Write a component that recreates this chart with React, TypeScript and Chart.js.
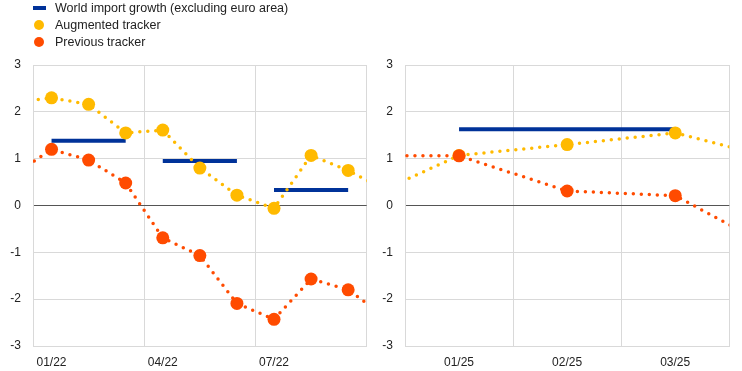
import React, { useEffect, useRef } from 'react';
import { Chart, registerables } from 'chart.js';

Chart.register(...registerables);

// ---- Data ----
// Left panel: monthly data Dec 2021 .. Oct 2022 (first and last are off-axis continuation points)
const leftMonths = ['12/21', '01/22', '02/22', '03/22', '04/22', '05/22', '06/22', '07/22', '08/22', '09/22', '10/22'];
const leftAugmented = [2.2, 2.3, 2.16, 1.55, 1.61, 0.8, 0.22, -0.06, 1.07, 0.75, 0.33];
const leftPrevious = [0.66, 1.2, 0.97, 0.48, -0.69, -1.07, -2.09, -2.43, -1.57, -1.8, -2.38];
const leftWorldQuarterly = [1.38, 0.95, 0.33];
const leftTickLabels = ['01/22', '04/22', '07/22'];

// Right panel: monthly data Dec 2024 .. Apr 2025 (first and last are off-axis continuation points)
const rightMonths = ['12/24', '01/25', '02/25', '03/25', '04/25'];
const rightAugmented = [0.01, 1.07, 1.3, 1.55, 0.96];
const rightPrevious = [1.07, 1.06, 0.31, 0.21, -1.03];
const rightWorldQuarterly = [1.63];
const rightTickLabels = ['01/25', '02/25', '03/25'];

const yTicks = [-3, -2, -1, 0, 1, 2, 3];

const legendLabels = ['World import growth (excluding euro area)', 'Augmented tracker', 'Previous tracker'];

// ---- Styles ----
const BLUE = '#003299';
const YELLOW = '#FFBA00';
const RED = '#FF4B00';
const GRID = '#d9d9d9';
const ZERO = '#555555';
const TEXT = '#222222';
const FONT = "'Liberation Sans', Arial, sans-serif";

function monthPoints(values: number[]) {
  return values.map((v, i) => ({ x: i - 0.5, y: v }));
}

function quarterSegments(values: number[]) {
  const pts: { x: number; y: number | null }[] = [];
  values.forEach((v, q) => {
    pts.push({ x: q * 3 + 0.5, y: v });
    pts.push({ x: q * 3 + 2.5, y: v });
    pts.push({ x: q * 3 + 2.75, y: null });
  });
  return pts;
}

function dottedDataset(label: string, color: string, values: number[], order: number) {
  const n = values.length;
  return {
    label,
    data: monthPoints(values),
    borderColor: color,
    backgroundColor: color,
    borderWidth: 3.5,
    borderDash: [0, 8],
    borderCapStyle: 'round' as const,
    pointRadius: values.map((_, i) => (i === 0 || i === n - 1 ? 0 : 6.5)),
    pointBackgroundColor: color,
    pointBorderWidth: 0,
    pointHoverRadius: 0,
    tension: 0,
    order,
  };
}

function makeConfig(opts: {
  augmented: number[];
  previous: number[];
  world: number[];
  tickLabels: string[];
  months: number;
  step: number;
  labelOffset: number;
  yWidth: number;
  padRight: number;
}) {
  const xTicks: number[] = [];
  for (let v = 0; v <= opts.months; v += opts.step) xTicks.push(v);
  return {
    type: 'line' as const,
    data: {
      datasets: [
        dottedDataset(legendLabels[2], RED, opts.previous, 0),
        dottedDataset(legendLabels[1], YELLOW, opts.augmented, 1),
        {
          label: legendLabels[0],
          data: opts.step === 3 ? quarterSegments(opts.world) : opts.world.flatMap((v) => [{ x: 0.5, y: v }, { x: 2.5, y: v }]),
          borderColor: BLUE,
          backgroundColor: BLUE,
          borderWidth: 4,
          pointRadius: 0,
          pointHoverRadius: 0,
          spanGaps: false,
          order: 2,
        },
      ],
    },
    options: {
      responsive: false,
      animation: false as const,
      devicePixelRatio: 1,
      layout: { padding: { top: 65, right: opts.padRight, bottom: 0, left: 0 } },
      plugins: { legend: { display: false }, tooltip: { enabled: false } },
      events: [],
      scales: {
        x: {
          type: 'linear' as const,
          min: 0,
          max: opts.months,
          afterBuildTicks: (axis: any) => {
            axis.ticks = xTicks.map((v) => ({ value: v }));
          },
          afterFit: (axis: any) => {
            axis.height = 25;
          },
          ticks: {
            autoSkip: false,
            maxRotation: 0,
            labelOffset: opts.labelOffset,
            padding: 0,
            color: TEXT,
            font: { family: FONT, size: 12, lineHeight: 2.75 },
            callback: (v: any) => {
              const idx = Math.round(Number(v) / opts.step);
              return opts.tickLabels[idx] ?? '';
            },
          },
          grid: { color: GRID, drawTicks: false, lineWidth: 1 },
          border: { display: true, color: GRID },
        },
        y: {
          type: 'linear' as const,
          min: -3,
          max: 3,
          afterBuildTicks: (axis: any) => {
            axis.ticks = yTicks.map((v) => ({ value: v }));
          },
          afterFit: (axis: any) => {
            axis.width = opts.yWidth;
          },
          ticks: {
            padding: 12,
            color: TEXT,
            font: { family: FONT, size: 12 },
            callback: (v: any) => String(v),
          },
          grid: {
            drawTicks: false,
            color: (ctx: any) => (ctx.tick && ctx.tick.value === 0 ? ZERO : GRID),
            lineWidth: 1,
          },
          border: { display: true, color: GRID },
        },
      },
    },
  };
}

function Panel(props: { left: number; width: number; config: any }) {
  const ref = useRef<HTMLCanvasElement | null>(null);
  useEffect(() => {
    if (!ref.current) return;
    const chart = new Chart(ref.current, props.config);
    return () => chart.destroy();
  }, []);
  return (
    <canvas
      ref={ref}
      width={props.width}
      height={371}
      style={{ position: 'absolute', left: props.left, top: 0, width: props.width, height: 371, display: 'block' }}
    />
  );
}

export default function App() {
  const leftConfig = makeConfig({
    augmented: leftAugmented,
    previous: leftPrevious,
    world: leftWorldQuarterly,
    tickLabels: leftTickLabels,
    months: leftMonths.length - 2,
    step: 3,
    labelOffset: 18.5,
    yWidth: 33,
    padRight: 3.3,
  });
  const rightConfig = makeConfig({
    augmented: rightAugmented,
    previous: rightPrevious,
    world: rightWorldQuarterly,
    tickLabels: rightTickLabels,
    months: rightMonths.length - 2,
    step: 1,
    labelOffset: 54,
    yWidth: 35,
    padRight: 12.7,
  });

  const markerColors = [BLUE, YELLOW, RED];
  return (
    <div style={{ position: 'absolute', left: 0, top: 0, width: 742, height: 371, background: '#fff', overflow: 'hidden' }}>
      <Panel left={0} width={370} config={leftConfig} />
      <Panel left={370} width={372} config={rightConfig} />
      <div style={{ position: 'absolute', left: 0, top: 0, width: 370, height: 55, zIndex: 2 }}>
        {legendLabels.map((label, i) => (
          <React.Fragment key={label}>
            {i === 0 ? (
              <div style={{ position: 'absolute', left: 33, top: 6, width: 13, height: 4, background: markerColors[i] }} />
            ) : (
              <div
                style={{
                  position: 'absolute',
                  left: 34.3,
                  top: 8 + 17 * i - 5,
                  width: 10,
                  height: 10,
                  borderRadius: '50%',
                  background: markerColors[i],
                }}
              />
            )}
            <div
              style={{
                position: 'absolute',
                left: 55,
                top: 17 * i,
                fontFamily: FONT,
                fontSize: 12.5,
                lineHeight: '17px',
                color: TEXT,
                whiteSpace: 'nowrap',
              }}
            >
              {label}
            </div>
          </React.Fragment>
        ))}
      </div>
    </div>
  );
}
